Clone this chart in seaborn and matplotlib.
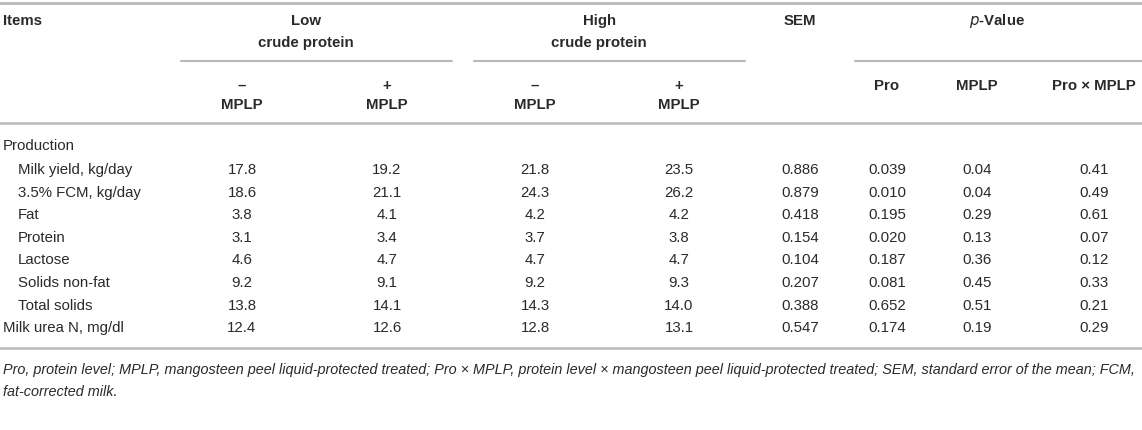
import matplotlib.pyplot as plt
import seaborn as sns

# dati della tabella
items = ["Milk yield, kg/day", "3.5% FCM, kg/day", "Fat", "Protein", "Lactose",
         "Solids non-fat", "Total solids", "Milk urea N, mg/dl"]
indent = [True, True, True, True, True, True, True, False]
low_minus = ["17.8", "18.6", "3.8", "3.1", "4.6", "9.2", "13.8", "12.4"]
low_plus = ["19.2", "21.1", "4.1", "3.4", "4.7", "9.1", "14.1", "12.6"]
high_minus = ["21.8", "24.3", "4.2", "3.7", "4.7", "9.2", "14.3", "12.8"]
high_plus = ["23.5", "26.2", "4.2", "3.8", "4.7", "9.3", "14.0", "13.1"]
sem = ["0.886", "0.879", "0.418", "0.154", "0.104", "0.207", "0.388", "0.547"]
p_pro = ["0.039", "0.010", "0.195", "0.020", "0.187", "0.081", "0.652", "0.174"]
p_mplp = ["0.04", "0.04", "0.29", "0.13", "0.36", "0.45", "0.51", "0.19"]
p_inter = ["0.41", "0.49", "0.61", "0.07", "0.12", "0.33", "0.21", "0.29"]

footnote = [
    "Pro, protein level; MPLP, mangosteen peel liquid-protected treated; Pro × MPLP, "
    "protein level × mangosteen peel liquid-protected treated; SEM, standard error of the mean; FCM,",
    "fat-corrected milk.",
]

sns.set_theme(style="white")
plt.rcParams["font.family"] = ["Liberation Sans", "DejaVu Sans"]

fig = plt.figure(figsize=(11.42, 4.30), dpi=100)
ax = fig.add_axes([0, 0, 1, 1])
ax.set_xlim(0, 1142)
ax.set_ylim(430, 0)
ax.axis("off")

fs = 10.8
txt = "#2a2a2a"
lc = "#b9b9b9"

# righe orizzontali
ax.plot([0, 1142], [3, 3], color=lc, lw=2)
ax.plot([0, 1142], [123, 123], color=lc, lw=1.8)
ax.plot([0, 1142], [348, 348], color=lc, lw=1.8)
ax.plot([181, 452], [61, 61], color=lc, lw=1.5)
ax.plot([474, 745], [61, 61], color=lc, lw=1.5)
ax.plot([855, 1142], [61, 61], color=lc, lw=1.5)

# intestazione
bold = dict(fontsize=fs, fontweight="bold", color=txt, va="center")
ax.text(3, 21, "Items", ha="left", **bold)
ax.text(306, 21, "Low", ha="center", **bold)
ax.text(306, 43, "crude protein", ha="center", **bold)
ax.text(599, 21, "High", ha="center", **bold)
ax.text(599, 43, "crude protein", ha="center", **bold)
ax.text(800, 21, "SEM", ha="center", **bold)
ax.text(997, 21, "$\\mathbf{\\mathit{p}}$-Value", ha="center", **bold)

cols = [242, 387, 535, 679, 800, 887, 977, 1094]
signs = ["–", "+", "–", "+"]
for x, s in zip(cols[:4], signs):
    ax.text(x, 86, s, ha="center", **bold)
    ax.text(x, 105, "MPLP", ha="center", **bold)
for x, s in zip(cols[5:], ["Pro", "MPLP", "Pro × MPLP"]):
    ax.text(x, 86, s, ha="center", **bold)

# corpo
norm = dict(fontsize=fs, color=txt, va="center")
ax.text(3, 146, "Production", ha="left", **norm)
y0, dy = 170, 22.6
colonne = [low_minus, low_plus, high_minus, high_plus, sem, p_pro, p_mplp, p_inter]
for i, nome in enumerate(items):
    y = y0 + i * dy
    ax.text(18 if indent[i] else 3, y, nome, ha="left", **norm)
    for x, col in zip(cols, colonne):
        ax.text(x, y, col[i], ha="center", **norm)

# nota
for j, riga in enumerate(footnote):
    ax.text(3, 370 + j * 22, riga, ha="left", fontsize=10.4, style="italic",
            color=txt, va="center")

fig.savefig("out.png", dpi=100)
plt.close()
